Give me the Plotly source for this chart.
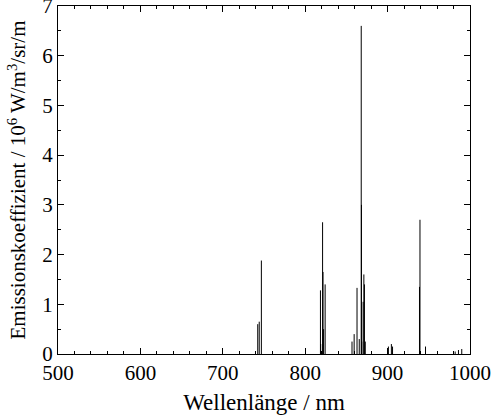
import plotly.graph_objects as go

# Emission line wavelengths (nm) and emission coefficients (10^6 W/m^3/sr/m)
wavelengths = [742.4, 744.2, 746.8,
               818.5, 818.8, 821.1, 821.6, 822.3, 824.2,
               856.8, 859.4, 862.9, 865.6, 868.0, 868.3, 868.6, 870.3, 871.2, 871.9, 872.9,
               901.0, 904.6, 906.0, 938.7, 939.3, 946.0, 982.0, 986.0, 990.0]
intensities = [0.60, 0.65, 1.88,
               1.28, 0.20, 2.65, 1.65, 0.50, 1.40,
               0.25, 0.40, 1.33, 0.30, 6.60, 3.00, 0.25, 1.05, 1.60, 1.40, 0.25,
               0.15, 0.20, 0.15, 1.35, 2.70, 0.15, 0.05, 0.08, 0.10]

x_ticks = [500, 600, 700, 800, 900, 1000]
y_ticks = [0, 1, 2, 3, 4, 5, 6, 7]

xs, ys = [], []
for w, h in zip(wavelengths, intensities):
    xs += [w, w, None]
    ys += [0, h, None]

fig = go.Figure(go.Scatter(x=xs, y=ys, mode="lines",
                           line=dict(color="black", width=1), hoverinfo="skip"))

font = dict(family="Liberation Serif", color="black")
axis_common = dict(showgrid=False, zeroline=False, showline=True, linecolor="black",
                   linewidth=1, mirror="ticks", ticks="inside", ticklen=6,
                   tickcolor="black", tickfont=dict(size=21, **font), automargin=False,
                   ticklabeloverflow="allow")

fig.update_layout(
    width=492, height=419,
    margin=dict(l=58, r=22, t=6, b=65),
    paper_bgcolor="white", plot_bgcolor="white",
    showlegend=False,
    xaxis=dict(range=[500, 1000], tickvals=x_ticks,
               minor=dict(dtick=20, ticks="inside", ticklen=3, tickcolor="black"),
               title=dict(text="Wellenlänge / nm", font=dict(size=23, **font), standoff=9),
               **axis_common),
    yaxis=dict(range=[0, 7], tickvals=y_ticks,
               minor=dict(dtick=0.5, ticks="inside", ticklen=3, tickcolor="black"),
               title=dict(text="Emissionskoeffizient / 10<sup>6</sup> W/m<sup>3</sup>/sr/m",
                          font=dict(size=21, **font), standoff=10),
               **axis_common),
)

fig.write_html("out.html",
               config={"displayModeBar": False},
               post_script="document.body.style.margin='0';document.body.style.overflow='hidden';")
